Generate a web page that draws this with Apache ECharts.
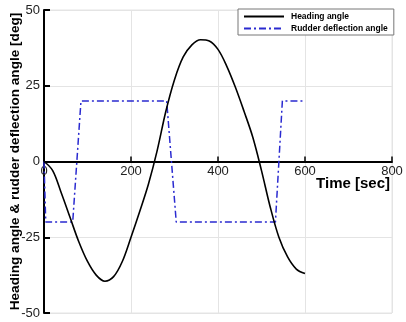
<!DOCTYPE html>
<html>
<head>
<meta charset="utf-8">
<script src="https://cdn.jsdelivr.net/npm/echarts@6/dist/echarts.min.js"></script>
<style>
  html, body { margin: 0; padding: 0; background: #fff; }
  #chart { width: 406px; height: 322px; }
</style>
</head>
<body>
<div id="chart"></div>
<script>
// Heading angle response [time (s), angle (deg)]
const headingTime = [0, 20, 40, 60, 80, 100, 120, 140, 160, 180, 200, 220, 240, 260, 280, 300, 320, 340, 360, 380, 400, 420, 440, 460, 480, 500, 520, 540, 560, 580, 600];
const headingAngle = [0, -3, -10.5, -18.5, -26.5, -33, -37.5, -39.5, -38, -33, -25, -16.5, -7.5, 3.5, 16.5, 27, 34.5, 38.5, 40.2, 39.8, 37, 31.5, 24.5, 16.5, 8, -3, -15, -25, -31.5, -35.5, -37];

// Rudder command [time (s), deflection (deg)]
const rudderTime = [0, 4, 66, 85, 282, 304, 532, 548, 600];
const rudderAngle = [0, -20, -20, 20, 20, -20, -20, 20, 20];

const xTicks = { min: 0, max: 800, interval: 200 };
const yTicks = { min: -50, max: 50, interval: 25 };

const zip = (a, b) => a.map((v, i) => [v, b[i]]);

const W = 406, H = 322;
const gridBox = { left: 44, right: 14, top: 10, bottom: 9 };
const plotH = H - gridBox.top - gridBox.bottom;

const chart = echarts.init(document.getElementById('chart'), null, { renderer: 'canvas' });
const font = 'Liberation Sans, Arial, sans-serif';

chart.setOption({
  animation: false,
  backgroundColor: '#fff',
  textStyle: { fontFamily: font },
  grid: Object.assign({
    show: true, borderColor: '#e4e4e4', borderWidth: 1,
    containLabel: false, outerBoundsMode: 'none'
  }, gridBox),
  legend: {
    left: 238, top: 9,
    orient: 'vertical',
    itemWidth: 40, itemHeight: 8, itemGap: 3,
    padding: [3, 6, 2, 5],
    borderColor: '#777', borderWidth: 1,
    backgroundColor: '#fff',
    itemStyle: { opacity: 0 },
    textStyle: { fontFamily: font, fontSize: 8.5, fontWeight: 'bold', color: '#000', padding: [0, 0, 0, 2] },
    data: ['Heading angle', 'Rudder deflection angle']
  },
  xAxis: {
    type: 'value',
    position: 'bottom',
    // horizontal axis sits on the zero line of the vertical axis
    offset: -plotH * (0 - yTicks.min) / (yTicks.max - yTicks.min),
    min: xTicks.min, max: xTicks.max, interval: xTicks.interval,
    axisLine: { onZero: false, lineStyle: { color: '#000', width: 2 } },
    axisTick: { show: true, inside: true, length: 5, lineStyle: { color: '#000', width: 1.5 } },
    axisLabel: { color: '#222', fontSize: 13, margin: 3, fontFamily: font },
    splitLine: { show: true, lineStyle: { color: '#e4e4e4', width: 1 } },
    name: 'Time [sec]',
    nameLocation: 'end',
    nameGap: -2,
    nameMoveOverlap: false,
    nameTextStyle: {
      fontFamily: font, fontSize: 15, fontWeight: 'bold', color: '#000',
      align: 'right', verticalAlign: 'top', padding: [15, 0, 0, 0]
    }
  },
  yAxis: {
    type: 'value',
    min: yTicks.min, max: yTicks.max, interval: yTicks.interval,
    axisLine: { show: true, onZero: false, lineStyle: { color: '#000', width: 2 } },
    axisTick: { show: true, inside: true, length: 6, lineStyle: { color: '#000', width: 2 } },
    axisLabel: { color: '#222', fontSize: 13, margin: 4, fontFamily: font },
    splitLine: { show: true, lineStyle: { color: '#e4e4e4', width: 1 } },
    name: 'Heading angle & rudder deflection angle [deg]',
    nameLocation: 'middle',
    nameGap: 22,
    nameMoveOverlap: false,
    nameTextStyle: { fontFamily: font, fontSize: 13.6, fontWeight: 'bold', color: '#000' }
  },
  series: [
    {
      name: 'Heading angle',
      type: 'line',
      data: zip(headingTime, headingAngle),
      smooth: 0.35,
      symbol: 'none',
      lineStyle: { color: '#000', width: 1.6 },
      itemStyle: { color: '#000' },
      z: 3
    },
    {
      name: 'Rudder deflection angle',
      type: 'line',
      data: zip(rudderTime, rudderAngle),
      symbol: 'none',
      lineStyle: { color: '#2a2ad0', width: 1.5, type: [7, 3, 2, 3] },
      itemStyle: { color: '#2a2ad0' },
      z: 2
    }
  ]
});
</script>
</body>
</html>
